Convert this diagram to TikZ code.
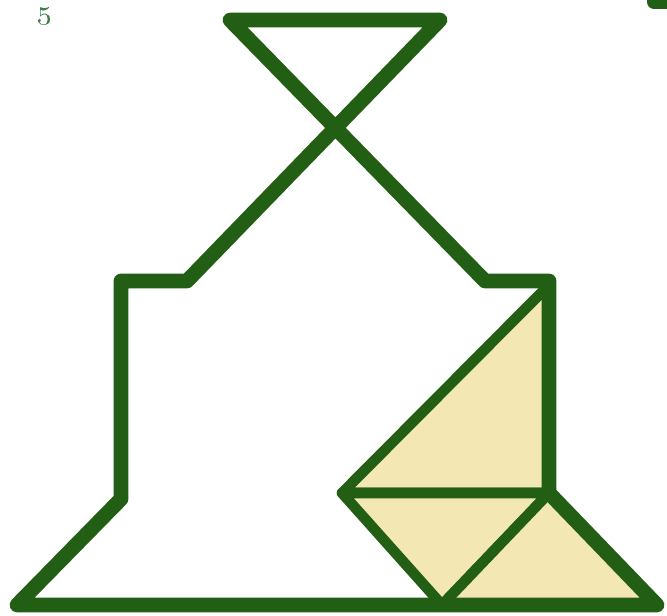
\documentclass[tikz,border=0pt]{standalone}
\usepackage{tikz}

\definecolor{tgreen}{RGB}{34,94,20}
\definecolor{tlabel}{RGB}{60,130,70}
\definecolor{tyellow}{RGB}{243,232,180}

\begin{document}
\begin{tikzpicture}[x=0.01cm,y=-0.01cm,line join=round,
    outline/.style={draw=tgreen,line width=4.2pt},
    piece/.style={draw=tgreen,line width=3pt,fill=tyellow}]
  \useasboundingbox (0,0) rectangle (667,616);
  % yellow pieces
  \filldraw[piece] (549,285) -- (549,493) -- (342,493) -- cycle;
  \filldraw[piece] (342,493) -- (549,493) -- (442,605) -- cycle;
  \filldraw[piece] (549,493) -- (442,605) -- (657,605) -- cycle;
  % silhouette
  \draw[outline] (17,605) -- (121,499) -- (121,281) -- (187,281) -- (440,20)
    -- (230,20) -- (485,281) -- (549,281) -- (549,493) -- (657,605) -- cycle;
  \node[text=tlabel,font=\fontsize{8}{8}\selectfont,inner sep=0pt] (num) at (45,16){\oldstylenums{5}};
  \fill[tgreen,rounded corners=2pt] (647,-6) rectangle (675,9);
\end{tikzpicture}
\end{document}
